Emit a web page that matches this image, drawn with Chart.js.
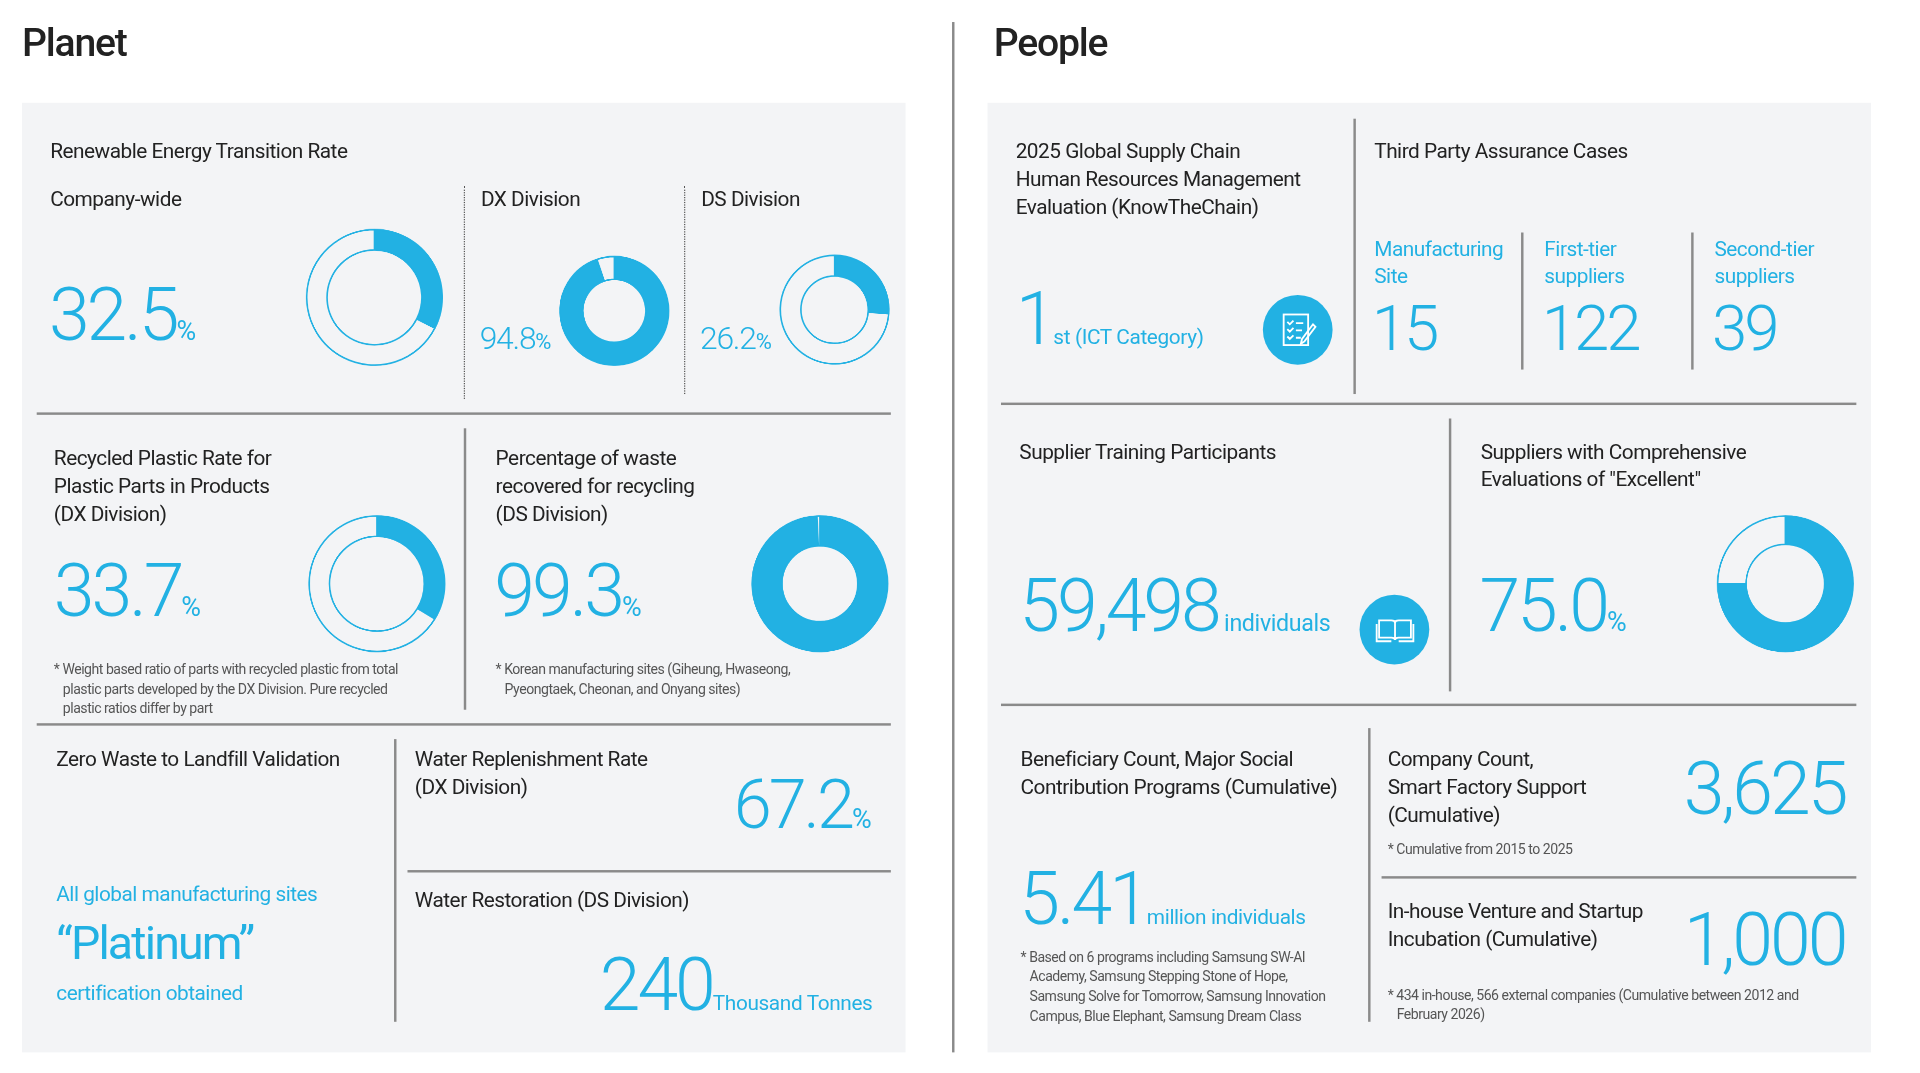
<!DOCTYPE html>
<html>
<head>
<meta charset="utf-8">
<script src="https://cdn.jsdelivr.net/npm/chart.js@4/dist/chart.umd.min.js"></script>
<style>
  html, body { margin: 0; background: #fff; overflow: hidden; }
  #stage { position: absolute; left: 0; top: 0; width: 1569px; height: 877px;
           transform: scale(1.2237); transform-origin: 0 0;
           font-family: "Roboto", "Noto Sans", sans-serif; color: #222; }
  .t { position: absolute; white-space: nowrap; line-height: 1; letter-spacing: -0.4px; }
  .b { color: #22b1e3; }
  .n { font-weight: 300; letter-spacing: -2.5px; }
  .n span { letter-spacing: -0.3px; font-weight: 400; }
  .panel { position: absolute; background: #f3f4f6; }
  .hl { position: absolute; height: 2px; background: #8a8a8a; }
  .vl { position: absolute; width: 1.5px; background: #8a8a8a; }
  .dl { position: absolute; width: 0; border-left: 1.5px dotted #555; }
  .cv { position: absolute; }
  .ic { position: absolute; border-radius: 50%; background: #22b1e3; }
</style>
</head>
<body>
<div id="stage"></div>
<script>
// donut values (percent)
const donutNames = ["Company-wide", "DX Division", "DS Division", "Recycled Plastic", "Waste Recovered", "Excellent Suppliers"];
const donutValues = [32.5, 94.8, 26.2, 33.7, 99.3, 75.0];
const donutCenters = [[306, 243], [502, 254], [682, 253], [308, 477], [670, 477], [1459, 477]];
const donutRadius = [54, 43, 43, 54, 54, 54];
const donutCutout = ["70%", "58%", "62%", "70%", "56%", "58%"];
const donutBorder = [1.3, 1.3, 1.3, 1.3, 1.3, 1.3];

const stage = document.getElementById("stage");
function el(cls, css, html) {
  const d = document.createElement("div");
  d.className = cls;
  Object.assign(d.style, css);
  if (html !== undefined) d.innerHTML = html;
  stage.appendChild(d);
  return d;
}
// text with vertical centre at y
function t(x, y, html, size, extra) {
  const css = { left: x + "px", top: (y - size * 0.55) + "px", fontSize: size + "px" };
  return el("t" + (extra && extra.cls ? " " + extra.cls : ""), Object.assign(css, extra && extra.css || {}), html);
}
function big(num, unit, us) {
  return num + '<span style="font-size:' + us + 'px">' + unit + '</span>';
}

// panels
el("panel", { left: "18px", top: "84px", width: "722px", height: "776px" });
el("panel", { left: "807px", top: "84px", width: "722px", height: "776px" });
el("vl", { left: "778px", top: "18px", height: "842px" });
t(18, 37, "Planet", 32, { css: { fontWeight: "500", letterSpacing: "-1px" } });
t(812, 37, "People", 32, { css: { fontWeight: "500", letterSpacing: "-1px" } });

// ---- Planet ----
t(41, 124, "Renewable Energy Transition Rate", 17);
t(41, 163, "Company-wide", 17);
t(393, 163, "DX Division", 17);
t(573, 163, "DS Division", 17);
el("dl", { left: "379px", top: "152px", height: "174px" });
el("dl", { left: "559px", top: "152px", height: "170px" });
el("t b n", { left: "40px", top: "228px", fontSize: "60px" }, big("32.5", "%", 22));
el("t b n", { left: "392px", top: "263px", fontSize: "26px", letterSpacing: "-1px" }, big("94.8", "%", 18));
el("t b n", { left: "572px", top: "263px", fontSize: "26px", letterSpacing: "-1px" }, big("26.2", "%", 18));
el("hl", { left: "30px", top: "337px", width: "698px" });
el("vl", { left: "379px", top: "350px", height: "230px" });

["Recycled Plastic Rate for", "Plastic Parts in Products", "(DX Division)"].forEach((s, i) => t(44, 375 + i * 23, s, 17));
el("t b n", { left: "44px", top: "453px", fontSize: "60px" }, big("33.7", "%", 22));
el("t", { left: "44px", top: "539px", fontSize: "11.5px", lineHeight: "16px", color: "#555" },
  "* Weight based ratio of parts with recycled plastic from total<br>&nbsp;&nbsp;&nbsp;plastic parts developed by the DX Division. Pure recycled<br>&nbsp;&nbsp;&nbsp;plastic ratios differ by part");
["Percentage of waste", "recovered for recycling", "(DS Division)"].forEach((s, i) => t(405, 375 + i * 23, s, 17));
el("t b n", { left: "404px", top: "453px", fontSize: "60px" }, big("99.3", "%", 22));
el("t", { left: "405px", top: "539px", fontSize: "11.5px", lineHeight: "16px", color: "#555" },
  "* Korean manufacturing sites (Giheung, Hwaseong,<br>&nbsp;&nbsp;&nbsp;Pyeongtaek, Cheonan, and Onyang sites)");
el("hl", { left: "30px", top: "591px", width: "698px" });
el("vl", { left: "322px", top: "604px", height: "231px" });

t(46, 621, "Zero Waste to Landfill Validation", 17);
t(46, 731, "All global manufacturing sites", 17, { cls: "b" });
t(46, 773, "\u201CPlatinum\u201D", 38, { cls: "b", css: { letterSpacing: "-1.5px" } });
t(46, 812, "certification obtained", 17, { cls: "b" });
t(339, 621, "Water Replenishment Rate", 17);
t(339, 644, "(DX Division)", 17);
el("t b n", { right: (1569 - 712) + "px", top: "630px", fontSize: "56px" }, big("67.2", "%", 22));
el("hl", { left: "333px", top: "711px", width: "395px" });
t(339, 736, "Water Restoration (DS Division)", 17);
el("t b n", { right: (1569 - 713) + "px", top: "775px", fontSize: "60px" }, big("240", "Thousand Tonnes", 17));

// ---- People ----
["2025 Global Supply Chain", "Human Resources Management", "Evaluation (KnowTheChain)"].forEach((s, i) => t(830, 124 + i * 23, s, 17));
el("t b n", { left: "830px", top: "231px", fontSize: "60px" }, big("1", "st (ICT Category)", 17));
el("ic", { left: "1032px", top: "241px", width: "57px", height: "57px" },
  '<svg width="57" height="57" viewBox="0 0 57 57" fill="none" stroke="#fff" stroke-width="1.5"><rect x="17" y="16" width="20" height="25"/><path d="M20 22l2 2 3-3M20 28l2 2 3-3M20 34l2 2 3-3M27 23h6M27 29h5M27 35h4M41 24l-9 12-1 4 3-2 9-12z"/></svg>');
el("vl", { left: "1106px", top: "97px", height: "225px" });
t(1123, 124, "Third Party Assurance Cases", 17);
[["Manufacturing", "Site", "15", 1123], ["First-tier", "suppliers", "122", 1262], ["Second-tier", "suppliers", "39", 1401]].forEach(c => {
  t(c[3], 204, c[0], 17, { cls: "b" });
  t(c[3], 226, c[1], 17, { cls: "b" });
  t(c[3] - 2, 272, c[2], 52, { cls: "b n" });
});
el("vl", { left: "1243px", top: "190px", height: "112px" });
el("vl", { left: "1382px", top: "190px", height: "112px" });
el("hl", { left: "818px", top: "329px", width: "699px" });
el("vl", { left: "1184px", top: "342px", height: "223px" });

t(833, 370, "Supplier Training Participants", 17);
el("t b n", { left: "833px", top: "466px", fontSize: "60px" }, "59,498" + '<span style="font-size:19px"> individuals</span>');
el("ic", { left: "1111px", top: "486px", width: "57px", height: "57px" },
  '<svg width="57" height="57" viewBox="0 0 57 57" fill="none" stroke="#fff" stroke-width="1.5"><path d="M16 21h10c2 0 3 1 3 2v14c0-1-1-2-3-2H16zM42 21H32c-2 0-3 1-3 2v14c0-1 1-2 3-2h10zM14 24v14h12M44 24v14H32"/></svg>');
t(1210, 370, "Suppliers with Comprehensive", 17);
t(1210, 392, "Evaluations of \"Excellent\"", 17);
el("t b n", { left: "1209px", top: "466px", fontSize: "60px" }, big("75.0", "%", 22));
el("hl", { left: "818px", top: "575px", width: "699px" });
el("vl", { left: "1118px", top: "595px", height: "240px" });

t(834, 621, "Beneficiary Count, Major Social", 17);
t(834, 644, "Contribution Programs (Cumulative)", 17);
el("t b n", { left: "833px", top: "705px", fontSize: "60px" }, big("5.41", "million individuals", 17));
el("t", { left: "834px", top: "774px", fontSize: "11.5px", lineHeight: "16px", color: "#555" },
  "* Based on 6 programs including Samsung SW-AI<br>&nbsp;&nbsp;&nbsp;Academy, Samsung Stepping Stone of Hope,<br>&nbsp;&nbsp;&nbsp;Samsung Solve for Tomorrow, Samsung Innovation<br>&nbsp;&nbsp;&nbsp;Campus, Blue Elephant, Samsung Dream Class");
["Company Count,", "Smart Factory Support", "(Cumulative)"].forEach((s, i) => t(1134, 621 + i * 23, s, 17));
el("t b n", { right: (1569 - 1508) + "px", top: "615px", fontSize: "60px" }, "3,625");
t(1134, 695, "* Cumulative from 2015 to 2025", 11.5, { css: { color: "#555" } });
el("hl", { left: "1129px", top: "716px", width: "388px" });
t(1134, 745, "In-house Venture and Startup", 17);
t(1134, 768, "Incubation (Cumulative)", 17);
el("t b n", { right: (1569 - 1508) + "px", top: "739px", fontSize: "60px" }, "1,000");
el("t", { left: "1134px", top: "805px", fontSize: "11.5px", lineHeight: "16px", color: "#555" },
  "* 434 in-house, 566 external companies (Cumulative between 2012 and<br>&nbsp;&nbsp;&nbsp;February 2026)");

// ---- donuts ----
donutValues.forEach((v, i) => {
  const r = donutRadius[i] + 2;
  const c = document.createElement("canvas");
  c.className = "cv";
  c.width = r * 2; c.height = r * 2;
  Object.assign(c.style, { left: (donutCenters[i][0] - r) + "px", top: (donutCenters[i][1] - r) + "px", width: r * 2 + "px", height: r * 2 + "px" });
  stage.appendChild(c);
  new Chart(c.getContext("2d"), {
    type: "doughnut",
    data: {
      labels: [donutNames[i], "Rest"],
      datasets: [{
        data: [v, 100 - v],
        backgroundColor: ["#22b1e3", "#f3f4f6"],
        borderColor: "#22b1e3",
        borderWidth: donutBorder[i],
      }],
    },
    options: {
      responsive: false,
      animation: false,
      devicePixelRatio: 2.5,
      cutout: donutCutout[i],
      plugins: { legend: { display: false }, tooltip: { enabled: false } },
    },
  });
});
</script>
</body>
</html>
